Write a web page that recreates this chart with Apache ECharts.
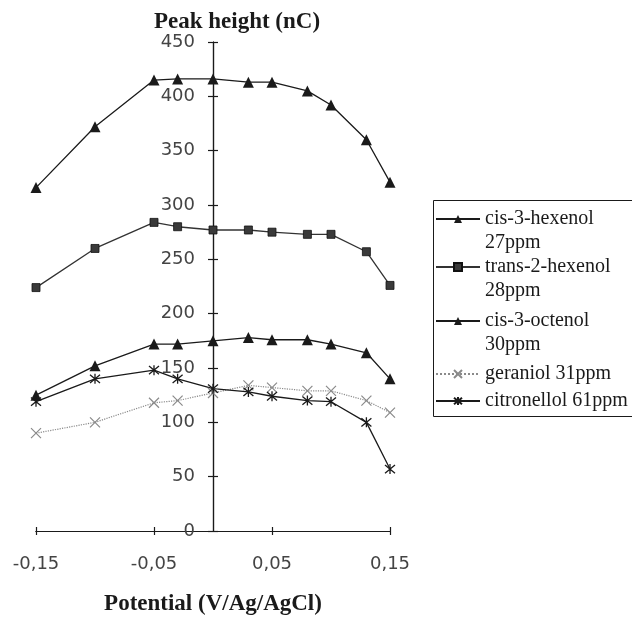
<!DOCTYPE html>
<html>
<head>
<meta charset="utf-8">
<script src="https://cdn.jsdelivr.net/npm/echarts@6/dist/echarts.min.js"></script>
<style>
  html, body { margin: 0; padding: 0; background: #fff; }
  #chart { width: 632px; height: 617px; }
</style>
</head>
<body>
<div id="chart"></div>
<script>
// potential (V vs Ag/AgCl) and peak heights (nC)
const potential = [-0.15, -0.1, -0.05, -0.03, 0, 0.03, 0.05, 0.08, 0.1, 0.13, 0.15];
const cisHexenol = [316, 372, 415, 416, 416, 413, 413, 405, 392, 360, 321];
const transHexenol = [224, 260, 284, 280, 277, 277, 275, 273, 273, 257, 226];
const cisOctenol = [125, 152, 172, 172, 175, 178, 176, 176, 172, 164, 140];
const geraniol = [90, 100, 118, 120, 127, 134, 132, 129, 129, 120, 109];
const citronellol = [119, 140, 148, 140, 131, 128, 124, 120, 119, 100, 57];

const seriesNames = [
  'cis-3-hexenol\n27ppm',
  'trans-2-hexenol\n28ppm',
  'cis-3-octenol\n30ppm',
  'geraniol 31ppm',
  'citronellol 61ppm'
];

const xMin = -0.15, xMax = 0.15, xStep = 0.1;
const yMin = 0, yMax = 450, yStep = 50;

const ink = '#1a1a1a';
const grey = '#8a8a8a';
const serif = '"Liberation Serif", "DejaVu Serif", serif';
const sans = '"DejaVu Sans", sans-serif';

const crossSymbol = 'path://M0,0L10,10M10,0L0,10';
const starSymbol = 'path://M0,0L10,10M10,0L0,10M5,-1L5,11';

function pairs(values) {
  return potential.map((p, i) => [p, values[i]]);
}

const chart = echarts.init(document.getElementById('chart'));

// one legend per entry so the icon sits on the first line of its label
// (a blank line is put on top of two-line labels, the text is centred on the icon)
const legendCentres = [217, 265, 319, 372, 399];
const legends = seriesNames.map((name, i) => {
  const twoLines = name.indexOf('\n') >= 0;
  return {
    selectedMode: false,
    orient: 'vertical',
    left: 435,
    top: legendCentres[i] - (twoLines ? 34 : 10),
    padding: 0,
    itemWidth: 44,
    itemHeight: 10,
    data: [name],
    formatter: n => (n.indexOf('\n') >= 0 ? '\u00a0\n' + n : n),
    textStyle: {
      fontFamily: serif,
      fontSize: 20,
      lineHeight: 24,
      color: ink
    }
  };
});

const tickLabel = {
  fontFamily: sans,
  fontSize: 18,
  color: '#444'
};

const axisInk = { color: ink, width: 1.2 };

const option = {
  animation: false,
  backgroundColor: '#fff',
  grid: [
    { left: 36, right: 242, top: 42, bottom: 86, outerBoundsMode: 'none', containLabel: false },
    // narrow grid holding the visible y axis, placed where x = 0
    { left: 213, width: 10, top: 42, bottom: 86, outerBoundsMode: 'none', containLabel: false }
  ],
  legend: legends,
  graphic: [{
    type: 'rect',
    left: 431,
    top: 198,
    shape: { width: 220, height: 216 },
    style: { fill: 'none', stroke: ink, lineWidth: 1 },
    z: 0
  }],
  xAxis: [{
    type: 'value',
    gridIndex: 0,
    min: xMin,
    max: xMax,
    interval: xStep,
    name: 'Potential (V/Ag/AgCl)',
    nameLocation: 'middle',
    nameGap: 62,
    nameTextStyle: { fontFamily: serif, fontWeight: 'bold', fontSize: 23, color: ink },
    axisLine: { lineStyle: axisInk },
    axisTick: { length: 4, lineStyle: axisInk },
    axisLabel: Object.assign({
      margin: 24,
      formatter: v => v.toFixed(2).replace('.', ',')
    }, tickLabel),
    splitLine: { show: false }
  }, {
    // same scale again, only for the upper half of the cross ticks
    type: 'value',
    gridIndex: 0,
    position: 'bottom',
    min: xMin,
    max: xMax,
    interval: xStep,
    axisLine: { show: true, lineStyle: axisInk },
    axisTick: { show: true, inside: true, length: 4, lineStyle: axisInk },
    axisLabel: { show: false },
    splitLine: { show: false }
  }, {
    type: 'value',
    gridIndex: 1,
    show: false,
    min: 0,
    max: 1
  }],
  yAxis: [{
    type: 'value',
    gridIndex: 0,
    show: false,
    min: yMin,
    max: yMax,
    interval: yStep
  }, {
    type: 'value',
    gridIndex: 1,
    position: 'left',
    min: yMin,
    max: yMax,
    interval: yStep,
    name: 'Peak height (nC)',
    nameLocation: 'end',
    nameGap: 4,
    nameTextStyle: {
      fontFamily: serif, fontWeight: 'bold', fontSize: 23, color: ink,
      padding: [0, 0, 0, 48]
    },
    axisLine: { onZero: false, lineStyle: axisInk },
    axisTick: { length: 5, lineStyle: axisInk },
    axisLabel: Object.assign({ margin: 18 }, tickLabel),
    splitLine: { show: false }
  }, {
    // same scale again, only for the right half of the cross ticks
    type: 'value',
    gridIndex: 1,
    position: 'left',
    min: yMin,
    max: yMax,
    interval: yStep,
    axisLine: { show: true, onZero: false, lineStyle: axisInk },
    axisTick: { show: true, inside: true, length: 5, lineStyle: axisInk },
    axisLabel: { show: false },
    splitLine: { show: false }
  }],
  series: [
    {
      name: seriesNames[0],
      type: 'line',
      data: pairs(cisHexenol),
      symbol: 'triangle',
      symbolSize: 11,
      lineStyle: { color: ink, width: 1.3 },
      itemStyle: { color: ink }
    },
    {
      name: seriesNames[1],
      type: 'line',
      data: pairs(transHexenol),
      symbol: 'rect',
      symbolSize: 8,
      lineStyle: { color: '#333', width: 1.3 },
      itemStyle: { color: '#3a3a3a', borderColor: '#111', borderWidth: 0.8 }
    },
    {
      name: seriesNames[2],
      type: 'line',
      data: pairs(cisOctenol),
      symbol: 'triangle',
      symbolSize: 11,
      lineStyle: { color: ink, width: 1.3 },
      itemStyle: { color: ink }
    },
    {
      name: seriesNames[3],
      type: 'line',
      data: pairs(geraniol),
      symbol: crossSymbol,
      symbolSize: 10,
      lineStyle: { color: grey, width: 1.2, type: 'dotted' },
      itemStyle: { color: grey, borderColor: grey, borderWidth: 1.2 }
    },
    {
      name: seriesNames[4],
      type: 'line',
      data: pairs(citronellol),
      symbol: starSymbol,
      symbolSize: 10,
      lineStyle: { color: ink, width: 1.3 },
      itemStyle: { color: ink, borderColor: ink, borderWidth: 1.3 }
    }
  ]
};

chart.setOption(option);
window.addEventListener('resize', () => chart.resize());
</script>
</body>
</html>
